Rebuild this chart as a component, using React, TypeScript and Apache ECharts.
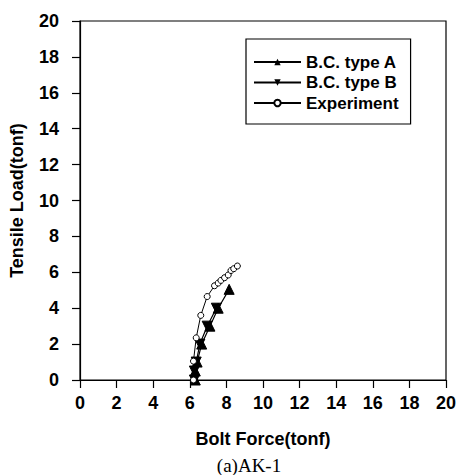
import React, { useEffect, useRef } from "react";
import * as echarts from "echarts";

// Bolt force (tonf) vs tensile load (tonf) for specimen AK-1
const typeAForce = [6.3, 6.3, 6.4, 6.65, 7.1, 7.55, 8.15];
const typeALoad = [0, 0.5, 1.0, 2.0, 3.0, 4.0, 5.05];

const typeBForce = [6.25, 6.25, 6.35, 6.55, 6.95, 7.45];
const typeBLoad = [0, 0.5, 1.0, 2.0, 3.0, 4.0];

const expForce = [6.2, 6.2, 6.35, 6.6, 6.95, 7.35, 7.55, 7.7, 7.9, 8.1, 8.25, 8.4, 8.6];
const expLoad = [0, 1.05, 2.35, 3.6, 4.65, 5.25, 5.4, 5.55, 5.7, 5.85, 6.1, 6.2, 6.35];

const seriesNames = ["B.C. type A", "B.C. type B", "Experiment"];
const xTitle = "Bolt Force(tonf)";
const yTitle = "Tensile Load(tonf)";
const caption = "(a)AK-1";

const pairs = (xs: number[], ys: number[]) => xs.map((x, i) => [x, ys[i]]);

const FONT = "'Liberation Sans', Arial, sans-serif";

export default function App() {
  const ref = useRef<HTMLDivElement>(null);

  useEffect(() => {
    if (!ref.current) return;
    const chart = echarts.init(ref.current, undefined, { renderer: "svg" });

    const axisCommon = {
      type: "value" as const,
      min: 0,
      max: 20,
      interval: 2,
      splitLine: { show: false },
      axisLine: { show: true, lineStyle: { color: "#000", width: 1.2 } },
      axisTick: { show: true, inside: false, length: 8, lineStyle: { color: "#000", width: 1.2 } },
      nameLocation: "middle" as const,
      nameTextStyle: { fontFamily: FONT, fontSize: 18, fontWeight: "bold" as const, color: "#000" },
    };

    chart.setOption({
      animation: false,
      backgroundColor: "#fff",
      grid: {
        left: 79,
        top: 21,
        right: 14,
        bottom: 95,
        show: true,
        borderColor: "#000",
        borderWidth: 1.2,
        backgroundColor: "transparent",
      },
      xAxis: {
        ...axisCommon,
        name: xTitle,
        nameGap: 50,
        axisLabel: { margin: 14, fontFamily: FONT, fontSize: 18, fontWeight: "bold", color: "#000" },
      },
      yAxis: {
        ...axisCommon,
        name: yTitle,
        nameGap: 54,
        axisLabel: { margin: 21, fontFamily: FONT, fontSize: 18, fontWeight: "bold", color: "#000" },
      },
      legend: {
        orient: "vertical",
        left: 246,
        top: 39,
        padding: [13, 12, 11, 7],
        borderColor: "#000",
        borderWidth: 1.2,
        itemWidth: 47,
        itemHeight: 8,
        itemGap: 0.5,
        backgroundColor: "#fff",
        textStyle: { fontFamily: FONT, fontSize: 17, fontWeight: "bold", color: "#000", lineHeight: 20 },
        data: seriesNames,
      },
      graphic: [
        {
          type: "text",
          x: 249,
          y: 465,
          style: {
            text: caption,
            fontFamily: "'Liberation Serif', 'Times New Roman', serif",
            fontSize: 19,
            fill: "#000",
            align: "center",
            verticalAlign: "middle",
          },
        },
      ],
      series: [
        {
          name: seriesNames[0],
          type: "line",
          data: pairs(typeAForce, typeALoad),
          symbol: "triangle",
          symbolSize: 10,
          lineStyle: { color: "#000", width: 1.2 },
          itemStyle: { color: "#000", borderColor: "#000" },
          z: 3,
        },
        {
          name: seriesNames[1],
          type: "line",
          data: pairs(typeBForce, typeBLoad),
          symbol: "triangle",
          symbolRotate: 180,
          symbolSize: 10,
          lineStyle: { color: "#000", width: 1.2 },
          itemStyle: { color: "#000", borderColor: "#000" },
          z: 3,
        },
        {
          name: seriesNames[2],
          type: "line",
          data: pairs(expForce, expLoad),
          symbol: "circle",
          symbolSize: 6,
          showAllSymbol: true,
          lineStyle: { color: "#000", width: 1 },
          itemStyle: { color: "#fff", borderColor: "#000", borderWidth: 1 },
          z: 4,
        },
      ],
    });

    return () => chart.dispose();
  }, []);

  return <div ref={ref} style={{ width: 460, height: 475, position: "absolute", left: 0, top: 0 }} />;
}
